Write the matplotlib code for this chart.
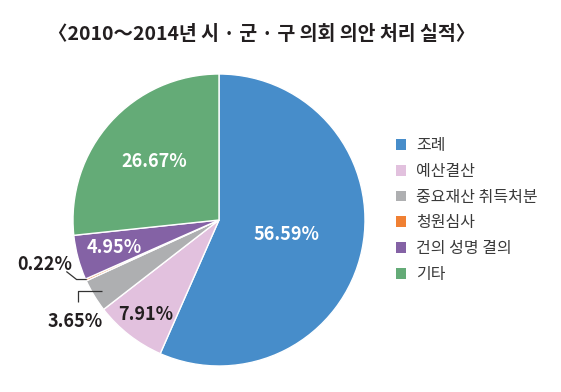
import numpy as np
import matplotlib
matplotlib.use("Agg")
import matplotlib.pyplot as plt
from matplotlib.patches import Patch

plt.rcParams['font.family'] = ['Noto Sans CJK KR', 'DejaVu Sans']

# data
categories = ["조례", "예산결산", "중요재산 취득처분", "청원심사", "건의 성명 결의", "기타"]
shares = [56.59, 7.91, 3.65, 0.22, 4.95, 26.67]
colors = ["#478dca", "#e2c1de", "#aeafb1", "#f08033", "#8462a5", "#64ab77"]
title = "〈2010～2014년 시 · 군 · 구 의회 의안 처리 실적〉"

# label styling per slice: radius inside pie, text colour (None = drawn outside)
label_r = [0.47, 0.82, None, None, 0.74, 0.60]
label_c = ["white", "#231f20", "#231f20", "#231f20", "white", "white"]

W, H = 561, 392
fig = plt.figure(figsize=(W / 100, H / 100), dpi=100)
cx, cy, R = 219, 220, 146
ax = fig.add_axes([(cx - R) / W, (H - cy - R) / H, 2 * R / W, 2 * R / H])

wedges, _ = ax.pie(shares, colors=colors, startangle=90, counterclock=False,
                   radius=1, wedgeprops=dict(edgecolor="white", linewidth=1.0))
ax.set_xlim(-1, 1)
ax.set_ylim(-1, 1)
ax.set_aspect("equal")
ax.axis("off")

pct_kw = dict(fontsize=13, fontweight="bold", ha="center", va="center", clip_on=False)

def mid_angle(w):
    return np.deg2rad((w.theta1 + w.theta2) / 2)

for w, v, r, c in zip(wedges, shares, label_r, label_c):
    if r is None:
        continue
    a = mid_angle(w)
    ax.text(r * np.cos(a), r * np.sin(a), f"{v:.2f}%", color=c, **pct_kw)

# small slices: labels outside with leader lines
line_kw = dict(color="#333333", linewidth=0.9, clip_on=False, solid_capstyle="butt")

a = mid_angle(wedges[3])   # 0.22%
x0, y0 = 0.993 * np.cos(a), 0.993 * np.sin(a)
ax.plot([x0, x0 - 0.07, x0 - 0.14], [y0, y0, y0 + 0.055], **line_kw)
ax.text(x0 - 0.29, y0 + 0.10, f"{shares[3]:.2f}%", color=label_c[3], **pct_kw)

a = mid_angle(wedges[2])   # 3.65%
x0, y0 = 0.94 * np.cos(a), 0.94 * np.sin(a)
ax.plot([x0, x0 - 0.16, x0 - 0.16], [y0, y0, y0 - 0.075], **line_kw)
ax.text(x0 - 0.18, y0 - 0.21, f"{shares[2]:.2f}%", color=label_c[2], **pct_kw)

# legend
handles = [Patch(facecolor=c, edgecolor="none") for c in colors]
fig.legend(handles, categories, loc="upper left", bbox_to_anchor=(396 / W, 1 - 137 / H),
           frameon=False, fontsize=11.5, handlelength=0.65, handleheight=0.65,
           handletextpad=0.6, labelspacing=0.55, labelcolor="#3a3a3a",
           borderaxespad=0, borderpad=0)

fig.text(262 / W, 1 - 34 / H, title, ha="center", va="center", fontsize=14,
         fontweight="bold", color="#231f20")

fig.savefig("out.png", dpi=100)
